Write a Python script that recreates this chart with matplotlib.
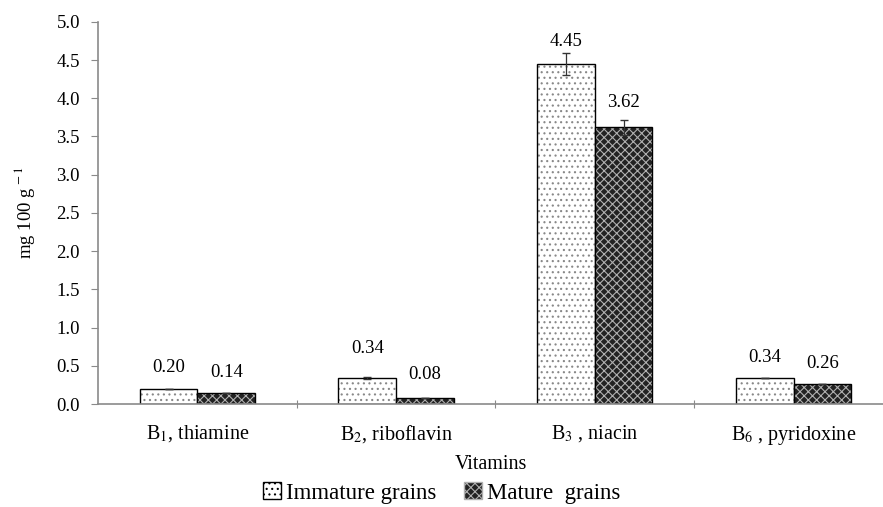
import numpy as np
import matplotlib
matplotlib.use('Agg')
import matplotlib.pyplot as plt
from matplotlib.patches import Patch

plt.rcParams['font.family'] = ['Liberation Serif', 'DejaVu Serif']
plt.rcParams['mathtext.fontset'] = 'stix'
plt.rcParams['hatch.linewidth'] = 0.8

# data
vitamins = ['B$_1$, thiamine', 'B$_2$, riboflavin', 'B$_3$ , niacin', 'B$_6$ , pyridoxine']
immature = [0.20, 0.34, 4.45, 0.34]
mature = [0.14, 0.08, 3.62, 0.26]
immature_err = [0.0, 0.01, 0.14, 0.0]
mature_err = [0.0, 0.0, 0.10, 0.0]
immature_lbl = ['0.20', '0.34', '4.45', '0.34']
mature_lbl = ['0.14', '0.08', '3.62', '0.26']

# label offsets in points above bar top
imm_off = [15, 21, 16, 15]
mat_off = [15, 17, 18, 15]

fig = plt.figure(figsize=(8.83, 5.07), dpi=100)
ax = fig.add_axes([0.111, 0.203, 0.889, 0.754])

x = np.arange(len(vitamins))
w = 0.29
axis_col = '#8a8a8a'

# immature: white with dots
ax.bar(x - w/2, immature, w, color='white', edgecolor='#888888', hatch='...', linewidth=0)
ax.bar(x - w/2, immature, w, color='none', edgecolor='black', linewidth=1.0)
# mature: dark with light cross hatch
ax.bar(x + w/2, mature, w, color='#222222', edgecolor='#b0b0b0', hatch='xxxx', linewidth=0)
ax.bar(x + w/2, mature, w, color='none', edgecolor='black', linewidth=1.0)

ax.errorbar(x - w/2, immature, yerr=immature_err, fmt='none', ecolor='#333333', elinewidth=0.9, capsize=3)
ax.errorbar(x + w/2, mature, yerr=mature_err, fmt='none', ecolor='#333333', elinewidth=0.9, capsize=3)

for i in range(len(x)):
    ax.annotate(immature_lbl[i], (x[i] - w/2, immature[i]), xytext=(0, imm_off[i]),
                textcoords='offset points', ha='center', va='center', fontsize=13.5)
    ax.annotate(mature_lbl[i], (x[i] + w/2, mature[i]), xytext=(0, mat_off[i]),
                textcoords='offset points', ha='center', va='center', fontsize=13.5)

ax.set_ylim(0, 5.0)
ax.set_xlim(-0.5, 3.45)
ax.set_yticks(np.arange(0, 5.01, 0.5))
ax.set_yticklabels(['%.1f' % v for v in np.arange(0, 5.01, 0.5)], fontsize=13.5)

ax.set_xticks([0.5, 1.5, 2.5])
ax.set_xticklabels([])
ax.set_xticks(x, minor=True)
ax.set_xticklabels(vitamins, minor=True, fontsize=14.5)
ax.tick_params(axis='x', which='minor', length=0, pad=14)
ax.tick_params(axis='x', which='major', length=6, direction='inout', color=axis_col)
ax.tick_params(axis='y', length=5, direction='out', color=axis_col, pad=8)

for s in ['top', 'right']:
    ax.spines[s].set_visible(False)
for s in ['left', 'bottom']:
    ax.spines[s].set_color(axis_col)
    ax.spines[s].set_linewidth(1.2)

ax.set_ylabel('mg 100 g$^{\\,-1}$', fontsize=13.5, labelpad=14)
ax.set_xlabel('Vitamins', fontsize=14.5, labelpad=6)

handles = [Patch(facecolor='white', edgecolor='black', hatch='...', label='Immature grains'),
           Patch(facecolor='#222222', edgecolor='#b0b0b0', hatch='xxxx', label='Mature  grains')]
leg = fig.legend(handles=handles, loc='center', bbox_to_anchor=(0.5, 0.028), ncol=2, frameon=False,
                 fontsize=16.5, handlelength=0.8, handleheight=0.8, handletextpad=0.2, columnspacing=1.2)

fig.savefig('out.png', dpi=100)
